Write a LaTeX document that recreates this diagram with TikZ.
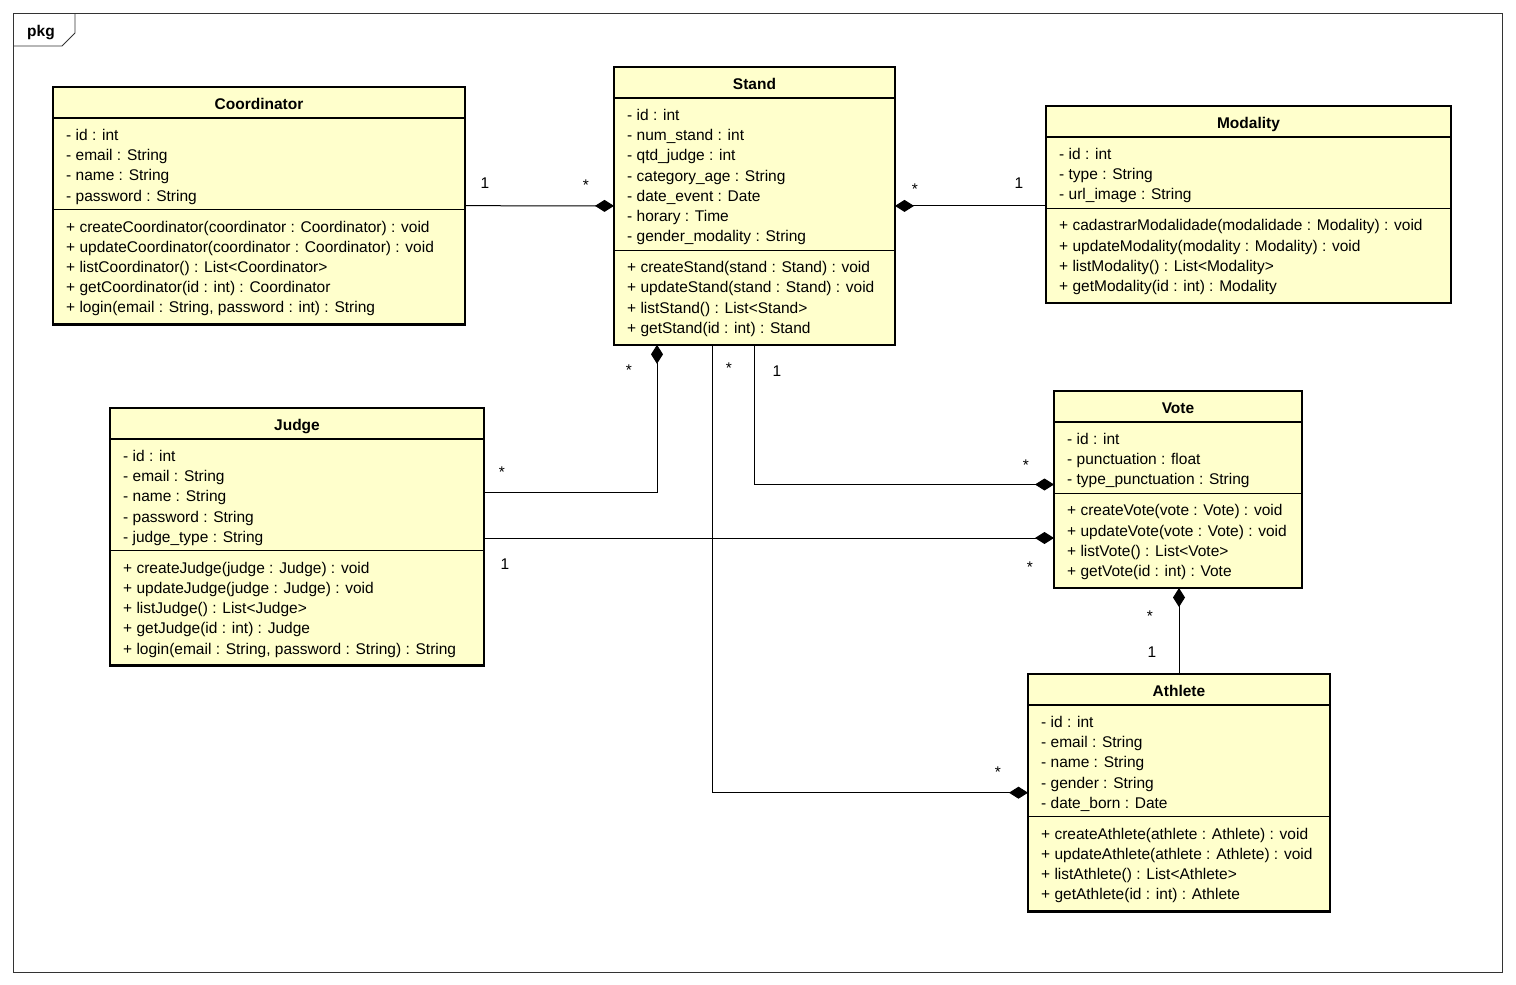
\documentclass[tikz,border=0pt]{standalone}
\usepackage{fontspec}
\setmainfont{Liberation Sans}
\usetikzlibrary{arrows.meta}
\definecolor{classfill}{RGB}{255,255,204}
\newcommand{\clsfont}{\fontsize{15.5}{18}\selectfont}
\tikzset{
  classbox/.style={draw=black, line width=2.6pt, fill=classfill, inner sep=0pt, outer sep=0pt, anchor=north west},
  member/.style={anchor=base west, inner sep=0pt, font=\clsfont},
  ctitle/.style={anchor=base, inner sep=0pt, font=\clsfont\bfseries},
  sepline/.style={line width=1.3pt},
  assoc/.style={line width=1pt},
  comp/.style={assoc, -{Diamond[length=19pt,width=12pt,fill=black]}},
  mult/.style={anchor=base, inner sep=0pt, font=\clsfont},
  frame/.style={draw=black!80, line width=0.9pt},
}
% #1 name, #2 left, #3 top, #4 right, #5 nAttr, #6 nMeth, #7 title, #8 attrs, #9 methods
\newcommand{\umlclass}[9]{%
  \pgfmathsetmacro{\clsHdr}{#3+31}%
  \pgfmathsetmacro{\clsSep}{#3+48+(#5-1)*20.2+14}%
  \pgfmathsetmacro{\clsBot}{#3+96+(#5+#6-2)*20.2}%
  \node[classbox, minimum width={(#4-#2)*1pt}, minimum height={(\clsBot-#3)*1pt}] (#1) at (#2,#3) {};
  \draw[sepline] (#2,\clsHdr) -- (#4,\clsHdr);
  \draw[sepline] (#2,\clsSep) -- (#4,\clsSep);
  \node[ctitle] (#1-t) at ({(#2+#4)/2},{#3+22.5}) {#7};
  \foreach \a [count=\i] in {#8}
    \node[member] (#1-a\i) at ({#2+13},{#3+48+(\i-1)*20.2+5.5}) {\a};
  \foreach \m [count=\i] in {#9}
    \node[member] (#1-m\i) at ({#2+13},{\clsSep+17+(\i-1)*20.2+5.5}) {\m};
}
\begin{document}
\begin{tikzpicture}[x=1pt,y=-1pt]
\useasboundingbox[fill=white] (0,0) rectangle (1516,985);
% package frame
\draw[frame] (13,13) rectangle (1502,972);
\draw[frame] (13,46) -- (62,46) -- (75,33) -- (75,13);
\node[ctitle] (pkg) at (41,36.5) {pkg};

\umlclass{coord}{53}{87}{465}{4}{5}{Coordinator}
  {{- id : int},{- email : String},{- name : String},{- password : String}}
  {{+ createCoordinator(coordinator : Coordinator) : void},
   {+ updateCoordinator(coordinator : Coordinator) : void},
   {+ listCoordinator() : List<Coordinator>},
   {+ getCoordinator(id : int) : Coordinator},
   {+ login(email : String, password : int) : String}}

\umlclass{stand}{614}{67}{895}{7}{4}{Stand}
  {{- id : int},{- num\_stand : int},{- qtd\_judge : int},{- category\_age : String},
   {- date\_event : Date},{- horary : Time},{- gender\_modality : String}}
  {{+ createStand(stand : Stand) : void},{+ updateStand(stand : Stand) : void},
   {+ listStand() : List<Stand>},{+ getStand(id : int) : Stand}}

\umlclass{modal}{1046}{106}{1451}{3}{4}{Modality}
  {{- id : int},{- type : String},{- url\_image : String}}
  {{+ cadastrarModalidade(modalidade : Modality) : void},
   {+ updateModality(modality : Modality) : void},
   {+ listModality() : List<Modality>},
   {+ getModality(id : int) : Modality}}

\umlclass{judge}{110}{408}{484}{5}{5}{Judge}
  {{- id : int},{- email : String},{- name : String},{- password : String},{- judge\_type : String}}
  {{+ createJudge(judge : Judge) : void},{+ updateJudge(judge : Judge) : void},
   {+ listJudge() : List<Judge>},{+ getJudge(id : int) : Judge},
   {+ login(email : String, password : String) : String}}

\umlclass{vote}{1054}{391}{1302}{3}{4}{Vote}
  {{- id : int},{- punctuation : float},{- type\_punctuation : String}}
  {{+ createVote(vote : Vote) : void},{+ updateVote(vote : Vote) : void},
   {+ listVote() : List<Vote>},{+ getVote(id : int) : Vote}}

\umlclass{athlete}{1028}{674}{1330}{5}{4}{Athlete}
  {{- id : int},{- email : String},{- name : String},{- gender : String},{- date\_born : Date}}
  {{+ createAthlete(athlete : Athlete) : void},{+ updateAthlete(athlete : Athlete) : void},
   {+ listAthlete() : List<Athlete>},{+ getAthlete(id : int) : Athlete}}

% connectors
\draw[comp] (coord.east) -- (stand.west);
\draw[comp] (stand.east -| modal.west) -- (stand.east);
\draw[comp] ([yshift=44.8pt]judge.east) -| ([xshift=-97.5pt]stand.south);
\draw[comp] (stand.south) |- ([yshift=5pt]vote.west);
\draw[comp] ([yshift=-1.2pt]judge.east) -- ([yshift=-48.5pt]vote.west);
\draw[comp] ([xshift=-42.5pt]stand.south) |- (athlete.west);
\draw[comp] (athlete.north) -- (athlete.north |- vote.south);

% multiplicities
\node[mult] (m1) at (485,188.5) {1};
\node[mult] (m2) at (586,190) {*};
\node[mult] (m3) at (915,194) {*};
\node[mult] (m4) at (1019,188) {1};
\node[mult] (m5) at (629,375) {*};
\node[mult] (m6) at (729,373) {*};
\node[mult] (m7) at (777,376) {1};
\node[mult] (m8) at (502,477) {*};
\node[mult] (m9) at (505,569) {1};
\node[mult] (m10) at (1026,470) {*};
\node[mult] (m11) at (1030,572) {*};
\node[mult] (m12) at (1150,621) {*};
\node[mult] (m13) at (1152,657.5) {1};
\node[mult] (m14) at (998,777) {*};
\end{tikzpicture}
\end{document}
